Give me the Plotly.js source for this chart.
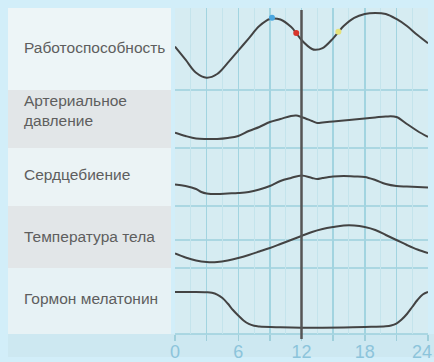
<!DOCTYPE html>
<html>
<head>
<meta charset="utf-8">
<script src="https://cdn.plot.ly/plotly-3.0.1.min.js"></script>
<style>
html,body{margin:0;padding:0;background:#d2eef9;}
#chart{width:434px;height:362px;}
</style>
</head>
<body>
<div id="chart"></div>
<script>
// ---- data (hours of day, relative level within each band, 0..100) ----
const hours = [0,1,2,3,4,5,6,7,8,9,10,11,11.5,12,13,13.3,14,15,15.5,16,17,18,19,20,21,22,23,24];
const workCapacity = [53,37,21,15,19.5,33,48,63,78,86.6,86,77,69.5,61,50,49,51,63,70.7,78,88,92.7,94,92.7,86.6,78,67,57];

const hours2 = [0,1,2,3,4,5,6,7,8,9,10,11,11.5,12,13,13.5,14,15,16,17,18,19,20,21,22,23,24];
const bloodPressure = [26.4,20.7,16.4,15.5,15.5,17.2,20.7,29.3,36.2,44.8,50,55.2,56,53.4,46.6,43.1,44,45.7,47.4,49.1,50.9,52.6,54.3,53.4,41.4,29.3,19];

const hours3 = [0,1,2,2.5,3,4,5,6,7,8,9,10,11,12,13,13.5,14,15,16,17,18,19,20,21,22,23,24];
const heartRate = [37.1,34.5,29.3,24.1,21.6,20.7,21.6,22.4,24.1,28.4,34.5,43.1,48.3,52.6,48.3,46.6,48.3,50.9,51.7,50.9,50,44.8,37.9,34.5,33.6,32.8,31.9];

const hours4 = [0,1,2,3,4,5,6,7,8,9,10,11,12,13,14,15,16,17,18,19,20,21,22,23,24];
const bodyTemp = [23.4,16.9,12.1,9.7,9.7,12.1,16.1,21,26.6,32.3,38.7,45.2,51.6,58.1,62.9,66.1,68.5,68.5,66.1,61.3,53.2,45.2,37.1,29.8,24.2];

const hours5 = [0,1,2,3,3.5,4,4.5,5,5.5,6,6.5,7,7.5,8,10,12,14,16,18,20,20.5,21,21.5,22,22.5,23,23.5,24];
const melatonin = [63.6,63.6,63.6,63.2,62.4,59.8,54.5,46.2,36.4,28,20.5,15.2,12.4,11.4,10.2,9.5,9.5,9.8,10.6,11.7,12.9,15.9,22,30.3,40.9,51.5,59.8,63.6];

const dotHours = [9.2, 11.5, 15.5];
const dotLevels = [88, 69.5, 71];
const dotColors = ['#4aa6df', '#d8352c', '#e6e27a'];

const bandLabels = ['Работоспособность', 'Артериальное<br>давление', 'Сердцебиение', 'Температура тела', 'Гормон мелатонин'];
const tickVals = [0,3,6,9,12,15,18,21,24];
const tickText = ['0','','6','','12','','18','','24'];
const markerHour = 12;

// ---- layout geometry (pixels) ----
const W = 434, H = 362, TOP = 8, BOT = 334, LEFT = 175, RIGHT = 428;
const bandEdges = [8, 90, 148, 206, 268, 334];
const py = p => (BOT - p) / (BOT - TOP);
const px = p => (p - LEFT) / (RIGHT - LEFT);

const lineStyle = {color:'#434343', width:2, shape:'spline', smoothing:1};
const series = [[hours,workCapacity],[hours2,bloodPressure],[hours3,heartRate],[hours4,bodyTemp],[hours5,melatonin]];
const axisNames = ['y5','y4','y3','y2','y'];

const traces = series.map((s,i) => ({
  x: s[0], y: s[1], type:'scatter', mode:'lines',
  line: lineStyle, xaxis:'x', yaxis: axisNames[i], hoverinfo:'skip'
}));
traces.push({
  x: dotHours, y: dotLevels, type:'scatter', mode:'markers', xaxis:'x', yaxis:'y5',
  marker:{color: dotColors, size:6, line:{width:0}}, hoverinfo:'skip'
});

// the last tick label sits on the right edge; draw it right-aligned so it stays whole
const lastIdx = tickText.length - 1;
const axisTickText = tickText.map((t, i) => i === lastIdx ? '' : t);
const tickFont = {size: 18, color: '#8cc4db', family: '"Liberation Sans", Arial, sans-serif'};

const layout = {
  width: W, height: H,
  margin: {l: LEFT, r: W - RIGHT, t: TOP, b: H - BOT, pad: 0},
  paper_bgcolor: '#d2eef9',
  plot_bgcolor: '#d6ecf2',
  showlegend: false,
  font: {family: '"Liberation Sans", Arial, sans-serif'},
  xaxis: {
    range: [0, 24], tickvals: tickVals, ticktext: axisTickText,
    showgrid: true, gridcolor: '#a2d4e0', gridwidth: 1.5,
    minor: {dtick: 1.5, showgrid: true, gridcolor: '#c4e4ec', gridwidth: 1},
    zeroline: false, showline: false,
    ticks: 'outside', ticklen: 6, tickcolor: '#9fcfdb', tickwidth: 1.5,
    ticklabeloverflow: 'allow', ticklabelstandoff: -5,
    tickfont: tickFont,
    anchor: 'y', fixedrange: true
  },
  shapes: [],
  annotations: []
};
for (let i = 0; i < 5; i++) {
  const key = i === 0 ? 'yaxis' : 'yaxis' + (i + 1);
  const bi = 4 - i; // band index from top
  layout[key] = {
    domain: [py(bandEdges[bi + 1]), py(bandEdges[bi])],
    range: [0, 100], showgrid: false, zeroline: false, showticklabels: false,
    showline: false, ticks: '', anchor: 'x', fixedrange: true
  };
}

// left label panels
const panelColors = ['#edf5f7', '#e2e6e8', '#ebf3f5', '#e2e6e8', '#e7f2f5'];
for (let b = 0; b < 5; b++) {
  layout.shapes.push({type:'rect', xref:'paper', yref:'paper', layer:'below',
    x0: px(8), x1: px(171), y0: py(bandEdges[b + 1]), y1: py(bandEdges[b]),
    fillcolor: panelColors[b], line: {width: 0}});
}
// bottom strip below the panels
layout.shapes.push({type:'rect', xref:'paper', yref:'paper', layer:'below',
  x0: px(8), x1: px(434), y0: py(357), y1: py(334), fillcolor:'#cde8f1', line:{width:0}});

// horizontal band lines
[90, 148, 206, 240, 268, 334].forEach(p => {
  layout.shapes.push({type:'line', xref:'paper', yref:'paper', layer:'below',
    x0: 0, x1: 1, y0: py(p), y1: py(p), line: {color:'#9dd1dd', width: 1.5}});
});

// vertical marker at noon
layout.shapes.push({type:'line', xref:'x', yref:'paper',
  x0: markerHour, x1: markerHour, y0: py(339), y1: py(10),
  line: {color:'#555555', width: 2.5}});

// label texts
const labelY = [48, 111, 175, 237, 298];
bandLabels.forEach((t, i) => {
  layout.annotations.push({text: t, xref:'paper', yref:'paper', x: px(22), y: py(labelY[i]),
    xanchor:'left', yanchor:'middle', showarrow:false, align:'left',
    font: {size: 15.5, color:'#5e5e5e', family:'"Liberation Sans", Arial, sans-serif'}});
});
// last tick label, kept inside the picture
layout.annotations.push({text: tickText[lastIdx], xref:'paper', yref:'paper',
  x: px(W), y: py(352), xanchor:'right', yanchor:'middle', showarrow:false,
  font: tickFont});

Plotly.newPlot('chart', traces, layout, {staticPlot: true, displayModeBar: false});
</script>
</body>
</html>
